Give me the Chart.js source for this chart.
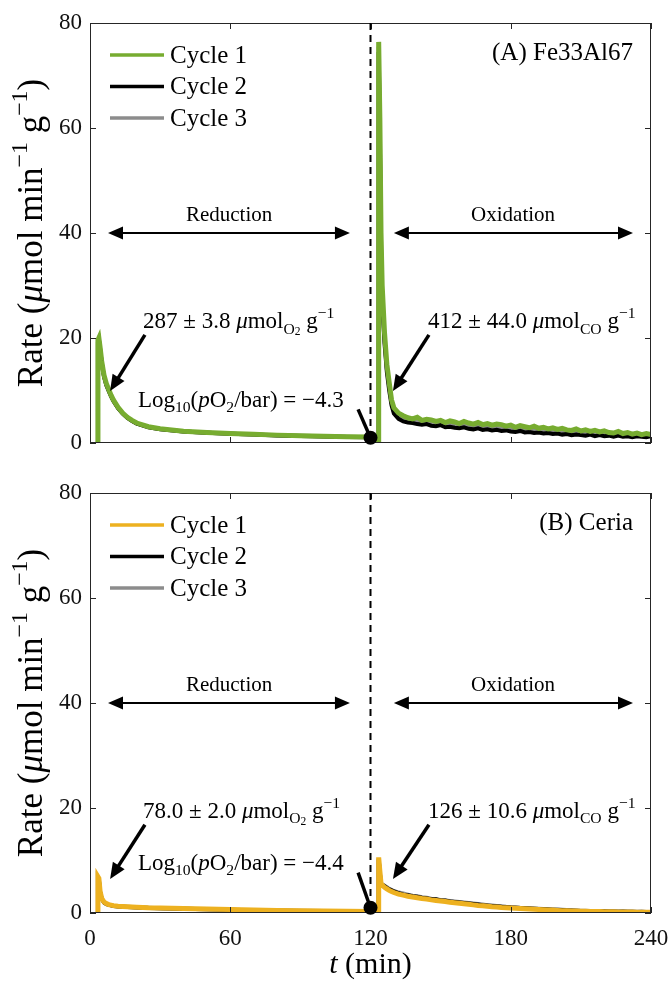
<!DOCTYPE html>
<html>
<head>
<meta charset="utf-8">
<script src="https://cdn.jsdelivr.net/npm/chart.js@4.4.0/dist/chart.umd.min.js"></script>
<style>
body { margin: 0; background: #fff; }
#wrap { position: relative; width: 672px; height: 986px; }
canvas { position: absolute; left: 0; }
</style>
</head>
<body>
<div id="wrap">
  <canvas id="chartA" width="672" height="470" style="top:0"></canvas>
  <canvas id="chartB" width="672" height="516" style="top:470px"></canvas>
</div>
<script>
// time axes (min)
var timeRed = [3.3, 3.4, 3.8, 4.3, 5, 6, 7, 8, 9, 10, 12, 14, 16, 18, 20, 25, 30, 40, 50, 60, 70, 80, 90, 100, 110, 120, 121];
var timeOx = [123.3, 123.5, 124, 124.5, 125, 126, 127, 128, 129, 130,
  132, 134, 136, 138, 140, 142, 144, 146, 148, 150, 152, 154, 156, 158, 160, 162, 164, 166, 168, 170,
  172, 174, 176, 178, 180, 182, 184, 186, 188, 190, 192, 194, 196, 198, 200, 202, 204, 206, 208, 210,
  212, 214, 216, 218, 220, 222, 224, 226, 228, 230, 232, 234, 236, 238, 240];

var cycleLabels = ['Cycle 1', 'Cycle 2', 'Cycle 3'];
var xTicks = [0, 60, 120, 180, 240];
var yTicks = [0, 20, 40, 60, 80];

// (A) Fe33Al67
var redA1 = [0, 19.6, 20.0, 18.3, 15.6, 12.9, 11.3, 10.2, 9.1, 8.2, 6.8, 5.7, 4.9, 4.3, 3.8, 3.1, 2.7, 2.25, 2.0, 1.8, 1.65, 1.5, 1.4, 1.3, 1.2, 1.15, 0.3];
var redA2 = [0, 19.2, 19.7, 18.0, 15.3, 12.6, 11.0, 9.9, 8.9, 8.0, 6.6, 5.6, 4.8, 4.2, 3.7, 3.0, 2.6, 2.2, 1.95, 1.75, 1.6, 1.45, 1.35, 1.25, 1.15, 1.1, 0.3];
var redA3 = [0, 19.4, 19.8, 18.1, 15.4, 12.7, 11.1, 10.0, 9.0, 8.1, 6.7, 5.6, 4.85, 4.25, 3.75, 3.05, 2.65, 2.2, 1.95, 1.78, 1.62, 1.48, 1.38, 1.28, 1.18, 1.12, 0.3];
var oxA1 = [0, 76.4, 62, 40, 30, 21, 15, 11.5, 8.2, 6.7,
  5.7, 5.2, 4.8, 4.6, 4.9, 4.3, 4.5, 4.4, 4.1, 4.3,
  3.9, 4.2, 4.0, 3.7, 4.1, 3.8, 3.6, 3.9, 3.5, 3.7,
  3.4, 3.6, 3.5, 3.2, 3.4, 3.0, 3.3, 3.1, 2.9, 3.2,
  2.8, 3.0, 2.7, 2.9, 2.6, 2.8, 2.5, 2.4, 2.7, 2.3,
  2.5, 2.2, 2.4, 2.1, 2.3, 2.0, 1.9, 2.2, 1.8, 2.0,
  1.7, 1.9, 1.6, 1.8, 1.6];
var oxA2 = [0, 74.5, 58, 37, 27, 19, 13.5, 10, 7.2, 5.6,
  4.6, 4.1, 3.9, 3.8, 3.6, 3.5, 3.6, 3.3, 3.2, 3.4,
  3.0, 3.1, 2.9, 2.8, 3.0, 2.7, 2.6, 2.8, 2.5, 2.6,
  2.4, 2.5, 2.3, 2.4, 2.2, 2.1, 2.3, 2.0, 2.1, 1.9,
  2.0, 1.8, 1.9, 1.7, 1.8, 1.6, 1.7, 1.5, 1.6, 1.5,
  1.4, 1.6, 1.3, 1.5, 1.3, 1.4, 1.2, 1.4, 1.2, 1.3,
  1.1, 1.3, 1.2, 1.1, 1.3];
var oxA3 = [0, 75.5, 60, 38.5, 28, 20, 14, 10.8, 7.6, 6.0,
  5.0, 4.6, 4.3, 4.1, 4.2, 3.8, 3.9, 3.7, 3.6, 3.7,
  3.4, 3.5, 3.3, 3.2, 3.4, 3.1, 3.0, 3.2, 2.9, 3.0,
  2.8, 2.9, 2.7, 2.8, 2.6, 2.5, 2.7, 2.4, 2.5, 2.3,
  2.4, 2.2, 2.3, 2.1, 2.2, 2.0, 2.1, 1.9, 2.0, 1.8,
  1.8, 1.9, 1.7, 1.8, 1.6, 1.7, 1.5, 1.7, 1.5, 1.6,
  1.4, 1.5, 1.4, 1.3, 1.4];

// (B) Ceria
var redB1 = [0, 6.9, 6.6, 4.2, 2.8, 2.1, 1.8, 1.6, 1.5, 1.4, 1.3, 1.25, 1.2, 1.15, 1.1, 1.0, 0.95, 0.85, 0.75, 0.65, 0.55, 0.5, 0.45, 0.4, 0.35, 0.3, 0.1];
var redB2 = [0, 6.6, 6.3, 4.0, 2.7, 2.0, 1.7, 1.55, 1.45, 1.35, 1.25, 1.2, 1.15, 1.1, 1.05, 0.95, 0.9, 0.8, 0.7, 0.6, 0.5, 0.45, 0.4, 0.35, 0.3, 0.25, 0.1];
var redB3 = [0, 6.7, 6.4, 4.1, 2.75, 2.05, 1.75, 1.58, 1.48, 1.38, 1.28, 1.22, 1.18, 1.12, 1.08, 0.98, 0.92, 0.82, 0.72, 0.62, 0.52, 0.48, 0.42, 0.38, 0.32, 0.28, 0.1];
var oxB1 = [0, 10.6, 8.0, 5.6, 5.3, 4.9, 4.6, 4.3, 4.1, 3.9,
  3.6, 3.4, 3.2, 3.05, 2.9, 2.75, 2.65, 2.5, 2.4, 2.3,
  2.2, 2.05, 1.95, 1.85, 1.75, 1.65, 1.55, 1.45, 1.4, 1.3,
  1.2, 1.15, 1.05, 1.0, 0.95, 0.9, 0.85, 0.8, 0.75, 0.7,
  0.65, 0.6, 0.55, 0.55, 0.5, 0.45, 0.45, 0.4, 0.4, 0.35,
  0.35, 0.3, 0.3, 0.3, 0.25, 0.25, 0.25, 0.2, 0.2, 0.2,
  0.2, 0.15, 0.15, 0.15, 0.15];
var oxB2 = [0, 10.2, 7.6, 5.4, 5.4, 5.1, 4.8, 4.5, 4.3, 4.1,
  3.8, 3.5, 3.4, 3.2, 3.1, 2.9, 2.8, 2.6, 2.6, 2.4,
  2.4, 2.2, 2.1, 2.0, 1.9, 1.8, 1.7, 1.6, 1.5, 1.45,
  1.35, 1.3, 1.2, 1.15, 1.05, 1.0, 0.95, 0.9, 0.85, 0.8,
  0.75, 0.7, 0.65, 0.6, 0.6, 0.55, 0.5, 0.5, 0.45, 0.4,
  0.4, 0.35, 0.4, 0.3, 0.35, 0.3, 0.3, 0.25, 0.3, 0.25,
  0.25, 0.2, 0.25, 0.2, 0.2];
var oxB3 = [0, 10.4, 7.8, 5.5, 5.5, 5.2, 4.9, 4.6, 4.4, 4.2,
  3.9, 3.7, 3.5, 3.3, 3.2, 3.0, 2.9, 2.7, 2.6, 2.5,
  2.4, 2.3, 2.2, 2.1, 2.0, 1.9, 1.8, 1.7, 1.6, 1.5,
  1.45, 1.35, 1.3, 1.2, 1.15, 1.1, 1.0, 0.95, 0.9, 0.85,
  0.8, 0.75, 0.7, 0.65, 0.6, 0.6, 0.55, 0.5, 0.5, 0.45,
  0.45, 0.4, 0.4, 0.35, 0.35, 0.3, 0.3, 0.3, 0.25, 0.25,
  0.25, 0.25, 0.2, 0.2, 0.2];

var F = '"Liberation Serif", "Times New Roman", serif';
var greyColor = '#8c8c8c';

function toPoints(red, ox) {
  var pts = timeRed.map(function (t, i) { return { x: t, y: red[i] }; });
  return pts.concat(timeOx.map(function (t, i) { return { x: t, y: ox[i] }; }));
}

// rich text: parts = [[text, style], ...]
var STY = {
  n: [1, 0, ''], i: [1, 0, 'italic '],
  sup: [0.68, -0.42, ''], sub: [0.68, 0.24, ''], sub2: [0.5, 0.32, '']
};
function richWidth(ctx, parts, size) {
  var w = 0;
  parts.forEach(function (p) {
    var s = STY[p[1]];
    ctx.font = s[2] + (size * s[0]) + 'px ' + F;
    w += ctx.measureText(p[0]).width;
  });
  return w;
}
function drawRich(ctx, parts, x, y, size, align) {
  var w = richWidth(ctx, parts, size);
  var cx = align === 'right' ? x - w : align === 'center' ? x - w / 2 : x;
  ctx.textBaseline = 'alphabetic';
  ctx.textAlign = 'left';
  parts.forEach(function (p) {
    var s = STY[p[1]];
    ctx.font = s[2] + (size * s[0]) + 'px ' + F;
    ctx.fillText(p[0], cx, y + s[1] * size);
    cx += ctx.measureText(p[0]).width;
  });
}

function head(ctx, x1, y1, x2, y2, len, half) {
  var a = Math.atan2(y2 - y1, x2 - x1);
  ctx.beginPath();
  ctx.moveTo(x2, y2);
  ctx.lineTo(x2 - len * Math.cos(a) + half * Math.sin(a), y2 - len * Math.sin(a) - half * Math.cos(a));
  ctx.lineTo(x2 - len * Math.cos(a) - half * Math.sin(a), y2 - len * Math.sin(a) + half * Math.cos(a));
  ctx.closePath();
  ctx.fill();
}
function arrow(ctx, x1, y1, x2, y2, lw, len, half) {
  var a = Math.atan2(y2 - y1, x2 - x1);
  ctx.lineWidth = lw;
  ctx.beginPath();
  ctx.moveTo(x1, y1);
  ctx.lineTo(x2 - (len - 2) * Math.cos(a), y2 - (len - 2) * Math.sin(a));
  ctx.stroke();
  head(ctx, x1, y1, x2, y2, len, half);
}

function decor(p) {
  return {
    id: 'decor',
    afterDraw: function (chart) {
      var ctx = chart.ctx, a = chart.chartArea, xs = chart.scales.x, ys = chart.scales.y;
      function X(t) { return xs.getPixelForValue(t); }
      function Y(r) { return ys.getPixelForValue(r); }
      ctx.save();
      // frame + inward ticks
      ctx.strokeStyle = '#262626';
      ctx.lineWidth = 1;
      ctx.strokeRect(a.left + 0.5, a.top + 0.5, a.right - a.left - 1, a.bottom - a.top - 1);
      ctx.beginPath();
      yTicks.forEach(function (v) {
        var py = Math.round(Y(v)) + 0.5;
        ctx.moveTo(a.left, py); ctx.lineTo(a.left + 6, py);
        ctx.moveTo(a.right, py); ctx.lineTo(a.right - 6, py);
      });
      xTicks.forEach(function (v) {
        var px = Math.round(X(v)) + 0.5;
        ctx.moveTo(px, a.top); ctx.lineTo(px, a.top + 6);
        ctx.moveTo(px, a.bottom); ctx.lineTo(px, a.bottom - 6);
      });
      ctx.stroke();

      // switch line at 120 min
      ctx.strokeStyle = '#000';
      ctx.lineWidth = 2;
      ctx.setLineDash([7, 5]);
      ctx.beginPath();
      ctx.moveTo(X(120), a.top); ctx.lineTo(X(120), a.bottom);
      ctx.stroke();
      ctx.setLineDash([]);

      // step arrows
      ctx.fillStyle = '#000';
      [[7.7, 111.2], [130, 232.3]].forEach(function (s) {
        var xa = X(s[0]), xb = X(s[1]), yy = Y(40);
        ctx.lineWidth = 2;
        ctx.beginPath(); ctx.moveTo(xa + 10, yy); ctx.lineTo(xb - 10, yy); ctx.stroke();
        head(ctx, xb, yy, xa, yy, 15, 6.5);
        head(ctx, xa, yy, xb, yy, 15, 6.5);
      });
      drawRich(ctx, [['Reduction', 'n']], X(59.5), Y(42.3), 21, 'center');
      drawRich(ctx, [['Oxidation', 'n']], X(181), Y(42.3), 21, 'center');

      // panel tag
      drawRich(ctx, [[p.tag, 'n']], X(232.3), Y(73), 25, 'right');

      // notes
      drawRich(ctx, p.redText, X(22.7), Y(p.noteY), 23, 'left');
      drawRich(ctx, p.oxText, X(144.6), Y(p.noteY), 23, 'left');
      drawRich(ctx, p.logText, X(20.5), Y(p.logY), 23, 'left');
      arrow(ctx, X(23.5), Y(p.noteY - 1.3), X(8.6), Y(p.tipY), 3.5, 16, 7);
      arrow(ctx, X(145), Y(p.noteY - 1.3), X(129.6), Y(p.tipY), 3.5, 16, 7);
      ctx.lineWidth = 3.5;
      ctx.beginPath(); ctx.moveTo(X(114.7), Y(p.logY - 0.5)); ctx.lineTo(X(120), Y(1)); ctx.stroke();
      ctx.beginPath(); ctx.arc(X(120), Y(1), 7, 0, Math.PI * 2); ctx.fill();

      // legend
      chart.data.datasets.forEach(function (d, i) {
        var ly = a.top + 32 + i * 31.5;
        ctx.strokeStyle = d.borderColor;
        ctx.lineWidth = 3.5;
        ctx.beginPath(); ctx.moveTo(a.left + 20, ly); ctx.lineTo(a.left + 74, ly); ctx.stroke();
        ctx.fillStyle = '#000';
        ctx.font = '25px ' + F;
        ctx.textAlign = 'left';
        ctx.textBaseline = 'middle';
        ctx.fillText(d.label, a.left + 80, ly + 1);
      });

      // y title
      ctx.fillStyle = '#000';
      ctx.save();
      ctx.translate(42, (a.top + a.bottom) / 2);
      ctx.rotate(-Math.PI / 2);
      drawRich(ctx, [['Rate (', 'n'], ['\u03bc', 'i'], ['mol min', 'n'], ['\u22121', 'sup'], [' g', 'n'], ['\u22121', 'sup'], [')', 'n']], 0, 0, 35, 'center');
      ctx.restore();

      if (p.xTitle) {
        drawRich(ctx, [['t', 'i'], [' (min)', 'n']], X(120), a.bottom + 60, 30, 'center');
      }
      ctx.restore();
    }
  };
}

function makeChart(p) {
  var colors = [p.color, '#000000', greyColor];
  var widths = [5, 4, 4];
  var datasets = [0, 1, 2].map(function (k) {
    return {
      label: cycleLabels[k],
      data: toPoints(p.red[k], p.ox[k]),
      borderColor: colors[k],
      borderWidth: widths[k],
      pointRadius: 0,
      tension: 0,
      fill: false
    };
  });
  return new Chart(document.getElementById(p.id), {
    type: 'line',
    data: { datasets: datasets },
    options: {
      responsive: false,
      animation: false,
      devicePixelRatio: 1,
      layout: { padding: { top: 23, right: 21, left: 0, bottom: 0 } },
      plugins: { legend: { display: false }, tooltip: { enabled: false } },
      scales: {
        x: {
          type: 'linear', min: 0, max: 240,
          grid: { display: false, drawTicks: false },
          border: { display: false },
          ticks: { display: p.xTitle, stepSize: 60, maxRotation: 0, padding: 12, color: '#111', font: { family: F, size: 23 } },
          afterFit: function (s) { s.height = p.xh; s.paddingLeft = 0; s.paddingRight = 0; }
        },
        y: {
          min: 0, max: 80,
          grid: { display: false, drawTicks: false },
          border: { display: false },
          ticks: { stepSize: 20, padding: 8, color: '#111', font: { family: F, size: 23 } },
          afterFit: function (s) { s.width = 90; s.paddingTop = 0; s.paddingBottom = 0; }
        }
      }
    },
    plugins: [decor(p)]
  });
}

makeChart({
  id: 'chartA', tag: '(A) Fe33Al67', color: '#77AC30', xh: 27, xTitle: false,
  red: [redA1, redA2, redA3], ox: [oxA1, oxA2, oxA3],
  noteY: 21.9, tipY: 9.9, logY: 6.9,
  redText: [['287 \u00b1 3.8 ', 'n'], ['\u03bc', 'i'], ['mol', 'n'], ['O', 'sub'], ['2', 'sub2'], [' g', 'n'], ['\u22121', 'sup']],
  oxText: [['412 \u00b1 44.0 ', 'n'], ['\u03bc', 'i'], ['mol', 'n'], ['CO', 'sub'], [' g', 'n'], ['\u22121', 'sup']],
  logText: [['Log', 'n'], ['10', 'sub'], ['(', 'n'], ['p', 'i'], ['O', 'n'], ['2', 'sub'], ['/bar) = \u22124.3', 'n']]
});
makeChart({
  id: 'chartB', tag: '(B) Ceria', color: '#EDB120', xh: 73, xTitle: true,
  red: [redB1, redB2, redB3], ox: [oxB1, oxB2, oxB3],
  noteY: 18.1, tipY: 6.5, logY: 8.2,
  redText: [['78.0 \u00b1 2.0 ', 'n'], ['\u03bc', 'i'], ['mol', 'n'], ['O', 'sub'], ['2', 'sub2'], [' g', 'n'], ['\u22121', 'sup']],
  oxText: [['126 \u00b1 10.6 ', 'n'], ['\u03bc', 'i'], ['mol', 'n'], ['CO', 'sub'], [' g', 'n'], ['\u22121', 'sup']],
  logText: [['Log', 'n'], ['10', 'sub'], ['(', 'n'], ['p', 'i'], ['O', 'n'], ['2', 'sub'], ['/bar) = \u22124.4', 'n']]
});
</script>
</body>
</html>
